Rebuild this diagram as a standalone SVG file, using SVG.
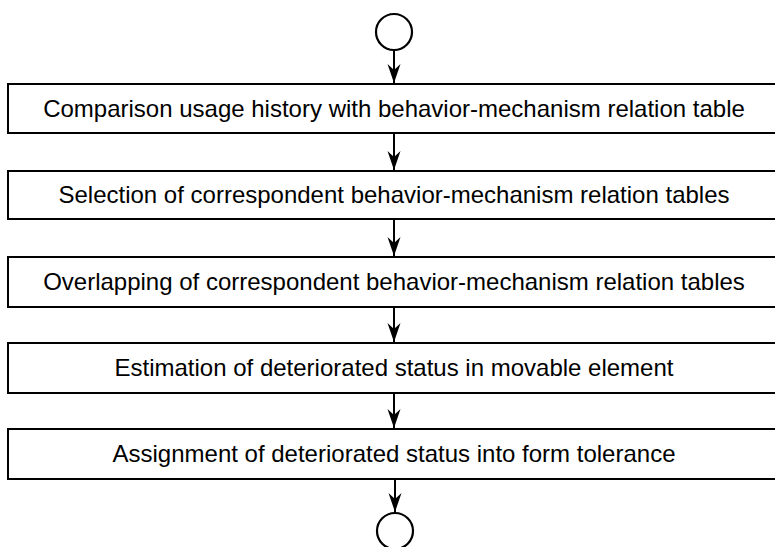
<svg xmlns="http://www.w3.org/2000/svg" width="775" height="547" viewBox="0 0 775 547">
<style>
.box{fill:#fff;stroke:#000;stroke-width:2}
.t{font-family:"Liberation Sans",Arial,sans-serif;font-size:24px;fill:#000;text-anchor:middle}
.c{stroke:#000;stroke-width:2;fill:none}
.st{fill:#fff;stroke:#000;stroke-width:2.2}
</style>
<defs>
<marker id="ah" markerWidth="22" markerHeight="16" viewBox="0 0 22 16" refX="21" refY="8" orient="auto" markerUnits="userSpaceOnUse">
<path d="M2,1.5 L21,8 L2,14.5 L8,8 Z" fill="#000"/>
</marker>
</defs>
<rect width="775" height="547" fill="#fff"/>
<g id="start"><circle class="st" cx="394" cy="32" r="18"/></g>
<g id="n1"><rect class="box" x="8" y="84" width="780" height="49"/><text class="t" x="394" y="117">Comparison usage history with behavior-mechanism relation table</text></g>
<g id="n2"><rect class="box" x="8" y="171" width="780" height="48"/><text class="t" x="394" y="203">Selection of correspondent behavior-mechanism relation tables</text></g>
<g id="n3"><rect class="box" x="8" y="257" width="780" height="50"/><text class="t" x="394" y="290">Overlapping of correspondent behavior-mechanism relation tables</text></g>
<g id="n4"><rect class="box" x="8" y="343" width="780" height="50"/><text class="t" x="394" y="376">Estimation of deteriorated status in movable element</text></g>
<g id="n5"><rect class="box" x="8" y="429" width="780" height="50"/><text class="t" x="394" y="462">Assignment of deteriorated status into form tolerance</text></g>
<g id="end"><circle class="st" cx="395" cy="531" r="18"/></g>
<g id="connectors">
<line class="c" x1="394" y1="50" x2="394" y2="83" marker-end="url(#ah)"/>
<line class="c" x1="394" y1="133" x2="394" y2="170" marker-end="url(#ah)"/>
<line class="c" x1="394" y1="219" x2="394" y2="256" marker-end="url(#ah)"/>
<line class="c" x1="394" y1="307" x2="394" y2="342" marker-end="url(#ah)"/>
<line class="c" x1="394" y1="393" x2="394" y2="428" marker-end="url(#ah)"/>
<line class="c" x1="395" y1="479" x2="395" y2="512" marker-end="url(#ah)"/>
</g>
</svg>
